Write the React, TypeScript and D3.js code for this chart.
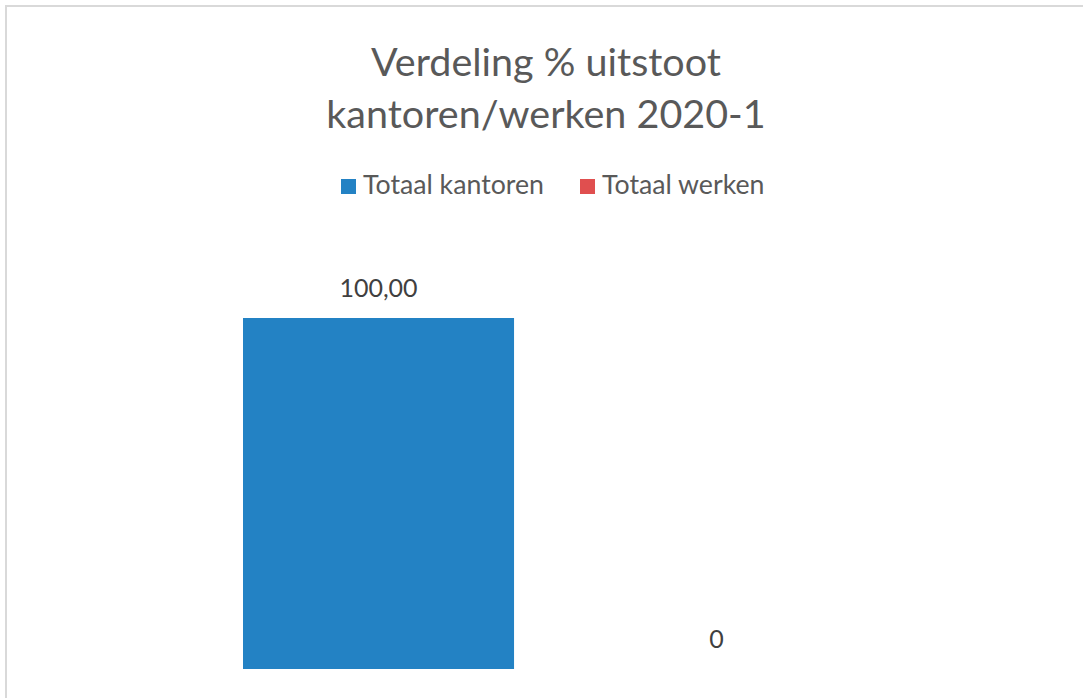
import React from "react";
import { scaleBand, scaleLinear } from "d3";

// chart data
const titleLines = ["Verdeling % uitstoot", "kantoren/werken 2020-1"];
const seriesNames = ["Totaal kantoren", "Totaal werken"];
const seriesValues = [100, 0];
const valueLabels = ["100,00", "0"];
const seriesColors = ["#2382c4", "#e04f4f"];

const W = 1083;
const H = 698;
const FONT = "Lato, 'Open Sans', sans-serif";

export default function App() {
  const xScale = scaleBand<string>()
    .domain(seriesNames)
    .range([243, 852])
    .paddingInner(0.198)
    .paddingOuter(0);

  const yScale = scaleLinear().domain([0, 100]).range([669, 318]);

  // legend layout
  const legendX = [341, 580];

  return (
    <svg
      width={W}
      height={H}
      style={{ position: "absolute", left: 0, top: 0, background: "#fff" }}
      fontFamily={FONT}
    >
      <rect x={0} y={0} width={W} height={H} fill="#fff" />
      <rect x={6} y={6} width={W + 20} height={H + 20} fill="none" stroke="#d9d9d9" strokeWidth={2} />

      {/* title */}
      {titleLines.map((t, i) => (
        <text key={i} x={546} y={76 + i * 52} textAnchor="middle" fontSize={39.5} fill="#595959">
          {t}
        </text>
      ))}

      {/* legend */}
      {seriesNames.map((name, i) => (
        <g key={name} transform={`translate(${legendX[i]},179)`}>
          <rect width={15} height={15} fill={seriesColors[i]} />
          <text x={22} y={15} fontSize={26.7} fill="#595959">
            {name}
          </text>
        </g>
      ))}

      {/* bars */}
      {seriesNames.map((name, i) => (
        <rect
          key={name}
          x={xScale(name)}
          y={yScale(seriesValues[i])}
          width={xScale.bandwidth()}
          height={yScale(0) - yScale(seriesValues[i])}
          fill={seriesColors[i]}
        />
      ))}

      {/* data labels */}
      {seriesNames.map((name, i) => (
        <text
          key={name}
          x={(xScale(name) ?? 0) + xScale.bandwidth() / 2}
          y={yScale(seriesValues[i]) - 21}
          textAnchor="middle"
          fontSize={25}
          fill="#404040"
        >
          {valueLabels[i]}
        </text>
      ))}
    </svg>
  );
}
